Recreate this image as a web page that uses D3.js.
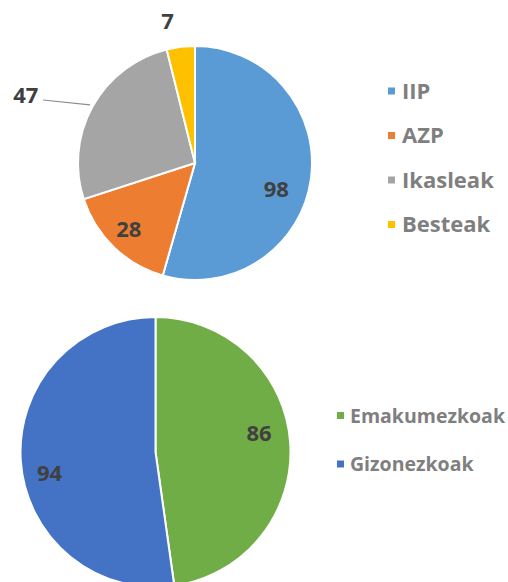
<!DOCTYPE html>
<html>
<head>
<meta charset="utf-8">
<script src="https://cdn.jsdelivr.net/npm/d3@7"></script>
<style>
  body { margin: 0; background: #fff; }
  text { font-family: "Open Sans", sans-serif; font-weight: 700; }
</style>
</head>
<body>
<div id="chart"></div>
<script>
const w = 508
const h = 582

// top pie
const topCats = ['IIP', 'AZP', 'Ikasleak', 'Besteak']
const topVals = [98, 28, 47, 7]
const topColors = ['#5b9bd5', '#ed7d31', '#a5a5a5', '#ffc000']

// bottom pie
const botCats = ['Emakumezkoak', 'Gizonezkoak']
const botVals = [86, 94]
const botColors = ['#70ad47', '#4472c4']

const svg = d3.select('#chart')
    .append('svg')
    .attr('width', w)
    .attr('height', h)

const rad = Math.PI / 180

// labelPos: [radius factor, angle shift in degrees] for each slice
function drawPie(cats, vals, colors, cx, cy, r, labelPos, legend) {
    const data = cats.map((c, i) => ({ cat: c, val: vals[i] }))
    const pie = d3.pie().sort(null).value(d => d.val)
    const arcs = pie(data)
    const arc = d3.arc().innerRadius(0).outerRadius(r)
    const color = d3.scaleOrdinal().domain(cats).range(colors)

    const g = svg.append('g').attr('transform', `translate(${cx},${cy})`)

    g.selectAll('path')
        .data(arcs)
        .enter()
        .append('path')
        .attr('d', arc)
        .attr('fill', d => color(d.data.cat))
        .attr('stroke', '#fff')
        .attr('stroke-width', 2)

    g.selectAll('text.lbl')
        .data(arcs)
        .enter()
        .append('text')
        .attr('class', 'lbl')
        .attr('text-anchor', 'middle')
        .attr('dy', '0.36em')
        .attr('fill', '#404040')
        .attr('font-size', 22)
        .attr('transform', (d, i) => {
            const a = (d.startAngle + d.endAngle) / 2 + labelPos[i][1] * rad
            const rr = r * labelPos[i][0]
            return `translate(${Math.sin(a) * rr},${-Math.cos(a) * rr})`
        })
        .text(d => d.data.val)

    const lg = svg.append('g')
        .attr('transform', `translate(${legend.x},${legend.y})`)
    const row = lg.selectAll('g')
        .data(cats)
        .enter()
        .append('g')
        .attr('transform', (d, i) => `translate(0,${i * legend.step})`)
    row.append('rect')
        .attr('x', 0).attr('y', -3.5)
        .attr('width', 7).attr('height', 7)
        .attr('fill', d => color(d))
    row.append('text')
        .attr('x', legend.gap)
        .attr('dy', '0.36em')
        .attr('fill', '#7f7f7f')
        .attr('font-size', legend.fs)
        .text(d => d)
    return { g, arcs }
}

const topPie = drawPie(topCats, topVals, topColors, 195, 163, 117,
    [[0.73, 10], [0.80, 1], [1.56, -7], [1.235, -4]],
    { x: 388, y: 91, step: 44.5, gap: 14, fs: 22 })

// leader line for the "47" label
const gArc = topPie.arcs[2]
const gMid = (gArc.startAngle + gArc.endAngle) / 2
topPie.g.append('line')
    .attr('x1', Math.sin(gMid) * 120)
    .attr('y1', -Math.cos(gMid) * 120)
    .attr('x2', -152)
    .attr('y2', -63)
    .attr('stroke', '#8c8c8c')
    .attr('stroke-width', 1.2)

drawPie(botCats, botVals, botColors, 155.5, 452, 135,
    [[0.78, -6.5], [0.80, -7]],
    { x: 337, y: 415.5, step: 48.5, gap: 13, fs: 19.5 })
</script>
</body>
</html>
